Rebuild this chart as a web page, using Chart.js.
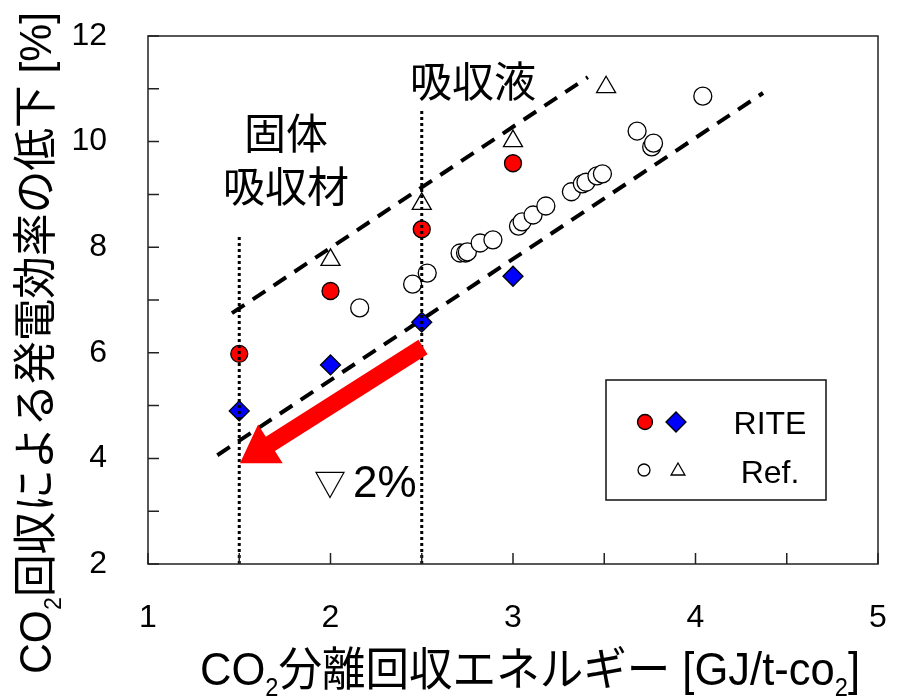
<!DOCTYPE html>
<html>
<head>
<meta charset="utf-8">
<script src="https://cdn.jsdelivr.net/npm/chart.js@4.4.1/dist/chart.umd.min.js"></script>
<style>
  html, body { margin: 0; padding: 0; background: #fff; }
  #wrap { width: 905px; height: 700px; }
</style>
</head>
<body>
<div id="wrap"><canvas id="chart" width="905" height="700"></canvas></div>
<script>
// データ
const riteX = [1.5, 2.0, 2.5, 3.0];
const riteCircleY = [5.98, 7.17, 8.34, 9.59];
const riteDiamondY = [4.90, 5.77, 6.58, 7.45];

const refTriX = [2.0, 2.5, 3.0, 3.51];
const refTriY = [7.76, 8.82, 10.01, 11.03];

const refCircleX = [2.16, 2.45, 2.53, 2.71, 2.74, 2.75, 2.82, 2.89, 3.03, 3.05, 3.11,
  3.18, 3.32, 3.38, 3.40, 3.46, 3.49, 3.68, 3.76, 3.77, 4.04];
const refCircleY = [6.85, 7.30, 7.51, 7.89, 7.89, 7.91, 8.08, 8.14, 8.40, 8.48, 8.61,
  8.78, 9.05, 9.20, 9.23, 9.35, 9.39, 10.20, 9.90, 9.97, 10.86];

// 破線（上限・下限）
const upperBandX = [1.46, 3.41];
const upperBandY = [6.75, 11.22];
const lowerBandX = [1.38, 4.37];
const lowerBandY = [4.06, 10.92];

// 点線（固体吸収材 / 吸収液）
const dividerX = [1.5, 2.5];
const dividerTopY = [8.23, 10.6];

// 矢印（▽2%）
const arrowTail = [2.507, 6.11];
const arrowTip = [1.504, 3.91];

const xTickLabels = [1, 2, 3, 4, 5];
const yTickLabels = [2, 4, 6, 8, 10, 12];

const MIXED = '"Liberation Sans", "Noto Sans CJK JP", sans-serif';
const CJK = '"Noto Sans CJK JP", sans-serif';

function pts(xs, ys) {
  return xs.map((x, i) => ({ x: x, y: ys[i] }));
}

// 下付き文字つきテキスト
function drawRich(ctx, parts, size, targetW) {
  const subSize = Math.round(size * 0.55);
  let w = 0;
  parts.forEach((p) => {
    ctx.font = (p.sub ? subSize : size) + "px " + MIXED;
    w += ctx.measureText(p.t).width;
  });
  const k = targetW ? targetW / w : 1;
  ctx.save();
  ctx.scale(k, 1);
  ctx.textAlign = "left";
  ctx.textBaseline = "alphabetic";
  ctx.fillStyle = "#000";
  let x = -w / 2;
  parts.forEach((p) => {
    ctx.font = (p.sub ? subSize : size) + "px " + MIXED;
    ctx.fillText(p.t, x, p.sub ? size * 0.23 : 0);
    x += ctx.measureText(p.t).width;
  });
  ctx.restore();
}

const decorPlugin = {
  id: "decor",
  afterDatasetsDraw(chart) {
    const ctx = chart.ctx;
    const xs = chart.scales.x;
    const ys = chart.scales.y;

    // 矢印
    const x0 = xs.getPixelForValue(arrowTail[0]);
    const y0 = ys.getPixelForValue(arrowTail[1]);
    const x1 = xs.getPixelForValue(arrowTip[0]);
    const y1 = ys.getPixelForValue(arrowTip[1]);
    const ang = Math.atan2(y1 - y0, x1 - x0);
    const len = Math.hypot(x1 - x0, y1 - y0);
    const shaft = 8.5, headLen = 36, headHalf = 23;
    ctx.save();
    ctx.translate(x0, y0);
    ctx.rotate(ang);
    ctx.fillStyle = "#ff0000";
    ctx.beginPath();
    ctx.moveTo(0, -shaft);
    ctx.lineTo(len - headLen, -shaft);
    ctx.lineTo(len - headLen, -headHalf);
    ctx.lineTo(len, 0);
    ctx.lineTo(len - headLen, headHalf);
    ctx.lineTo(len - headLen, shaft);
    ctx.lineTo(0, shaft);
    ctx.closePath();
    ctx.fill();
    ctx.restore();
  },
  afterDraw(chart) {
    const ctx = chart.ctx;
    const a = chart.chartArea;
    const xs = chart.scales.x;
    const ys = chart.scales.y;

    // 枠と内向き目盛り
    ctx.save();
    ctx.strokeStyle = "#222";
    ctx.lineWidth = 1.5;
    ctx.strokeRect(a.left, a.top, a.right - a.left, a.bottom - a.top);
    ctx.beginPath();
    xs.ticks.forEach((t, i) => {
      const px = xs.getPixelForTick(i);
      ctx.moveTo(px, a.bottom);
      ctx.lineTo(px, a.bottom - 11);
    });
    ys.ticks.forEach((t, i) => {
      const py = ys.getPixelForTick(i);
      ctx.moveTo(a.left, py);
      ctx.lineTo(a.left + 11, py);
    });
    ctx.stroke();
    ctx.restore();

    // 軸タイトル
    ctx.save();
    ctx.translate(51, 343);
    ctx.rotate(-Math.PI / 2);
    drawRich(ctx, [
      { t: "CO" }, { t: "2", sub: true },
      { t: "回収による発電効率の低下 [%]" }
    ], 44, 662);
    ctx.restore();

    ctx.save();
    ctx.translate(530, 685);
    drawRich(ctx, [
      { t: "CO" }, { t: "2", sub: true },
      { t: "分離回収エネルギー [GJ/t-co" }, { t: "2", sub: true }, { t: "]" }
    ], 46, 660);
    ctx.restore();

    // 注記
    ctx.save();
    ctx.fillStyle = "#000";
    ctx.textAlign = "center";
    ctx.textBaseline = "middle";
    ctx.font = "42px " + CJK;
    ctx.fillText("固体", 286, 133);
    ctx.fillText("吸収材", 286, 186);
    ctx.fillText("吸収液", 473, 81);
    ctx.font = "32px " + CJK;
    ctx.fillText("▽", 330, 484);
    ctx.textAlign = "left";
    ctx.textBaseline = "alphabetic";
    ctx.font = "44px " + MIXED;
    ctx.fillText("2%", 353, 497);
    ctx.restore();

    // 凡例
    ctx.save();
    ctx.strokeStyle = "#111";
    ctx.lineWidth = 1.5;
    ctx.strokeRect(606, 380, 220, 120);
    ctx.lineWidth = 1.3;
    ctx.strokeStyle = "#000";
    const dp = Chart.helpers.drawPoint;
    ctx.fillStyle = "#ff0000";
    dp(ctx, { pointStyle: "circle", radius: 7.5, borderWidth: 1.3 }, 645, 422);
    ctx.fillStyle = "#0000ff";
    dp(ctx, { pointStyle: "rectRot", radius: 10, borderWidth: 1.3 }, 676, 422);
    ctx.fillStyle = "#fff";
    dp(ctx, { pointStyle: "circle", radius: 6, borderWidth: 1.3 }, 644, 470);
    dp(ctx, { pointStyle: "triangle", radius: 8, borderWidth: 1.3 }, 678, 471);
    ctx.fillStyle = "#000";
    ctx.textAlign = "center";
    ctx.textBaseline = "alphabetic";
    ctx.font = "32px " + MIXED;
    ctx.fillText("RITE", 770, 434);
    ctx.fillText("Ref.", 770, 483);
    ctx.restore();
  }
};

const lineStyle = {
  type: "line",
  showLine: true,
  pointRadius: 0,
  borderColor: "#000",
  fill: false,
  clip: false
};

const datasets = [
  Object.assign({}, lineStyle, {
    data: pts(upperBandX, upperBandY), borderWidth: 4, borderDash: [15, 10], order: 5
  }),
  Object.assign({}, lineStyle, {
    data: pts(lowerBandX, lowerBandY), borderWidth: 4, borderDash: [15, 10], order: 5
  }),
  {
    data: pts(refCircleX, refCircleY), pointStyle: "circle", pointRadius: 9,
    backgroundColor: "#fff", borderColor: "#000", borderWidth: 1.3, order: 4
  },
  {
    data: pts(refTriX, refTriY), pointStyle: "triangle", pointRadius: 11,
    backgroundColor: "#fff", borderColor: "#000", borderWidth: 1.3, order: 4
  },
  {
    data: pts(riteX, riteCircleY), pointStyle: "circle", pointRadius: 8.5,
    backgroundColor: "#ff0000", borderColor: "#000", borderWidth: 1.3, order: 3
  },
  {
    data: pts(riteX, riteDiamondY), pointStyle: "rectRot", pointRadius: 10,
    backgroundColor: "#0000ff", borderColor: "#000", borderWidth: 1.3, order: 3
  }
];

dividerX.forEach((x, i) => {
  datasets.push(Object.assign({}, lineStyle, {
    data: [{ x: x, y: 2 }, { x: x, y: dividerTopY[i] }],
    borderWidth: 3, borderDash: [3, 3], order: 1
  }));
});

new Chart(document.getElementById("chart"), {
  type: "scatter",
  data: { datasets: datasets },
  options: {
    responsive: false,
    animation: false,
    devicePixelRatio: 1,
    layout: { padding: { top: 36, right: 27, left: 0, bottom: 0 } },
    plugins: {
      legend: { display: false },
      tooltip: { enabled: false }
    },
    scales: {
      x: {
        type: "linear",
        min: 1,
        max: 5,
        afterFit: (s) => { s.height = 136; s.paddingLeft = 0; s.paddingRight = 0; },
        grid: { display: false, drawTicks: false },
        border: { display: false },
        ticks: {
          stepSize: 0.5,
          padding: 35,
          color: "#000",
          font: { family: MIXED, size: 32 },
          callback: (v) => (xTickLabels.includes(v) ? v : "")
        }
      },
      y: {
        type: "linear",
        min: 2,
        max: 12,
        afterFit: (s) => { s.width = 148; s.paddingTop = 0; s.paddingBottom = 0; },
        grid: { display: false, drawTicks: false },
        border: { display: false },
        ticks: {
          stepSize: 1,
          padding: 41,
          color: "#000",
          font: { family: MIXED, size: 32 },
          callback: (v) => (yTickLabels.includes(v) ? v : "")
        }
      }
    }
  },
  plugins: [decorPlugin]
});
</script>
</body>
</html>
